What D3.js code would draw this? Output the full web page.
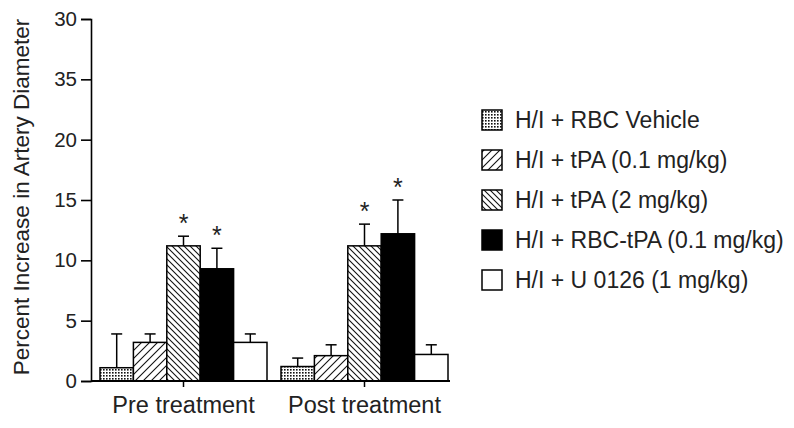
<!DOCTYPE html>
<html>
<head>
<meta charset="utf-8">
<script src="https://cdn.jsdelivr.net/npm/d3@7"></script>
<style>
  body { margin: 0; background: #fff; }
  text { font-family: "Liberation Sans", Arial, sans-serif; fill: #222; }
</style>
</head>
<body>
<div class="vis1"></div>
<script>
// Data
var groups = ["Pre treatment", "Post treatment"];
var series = ["H/I + RBC Vehicle", "H/I + tPA (0.1 mg/kg)", "H/I + tPA (2 mg/kg)", "H/I + RBC-tPA (0.1 mg/kg)", "H/I + U 0126 (1 mg/kg)"];
var preMeans = [1.1, 3.2, 11.2, 9.3, 3.2];
var preErrors = [2.8, 0.7, 0.8, 1.7, 0.7];
var postMeans = [1.2, 2.1, 11.2, 12.2, 2.2];
var postErrors = [0.7, 0.9, 1.8, 2.8, 0.8];
var preStars = [false, false, true, true, false];
var postStars = [false, false, true, true, false];
var tickValues = [0, 5, 10, 15, 20, 25, 30];
var tickLabels = ["0", "5", "10", "15", "20", "35", "30"];   // as printed in the original

var width = 794, height = 428;

var svg = d3.select(".vis1")
  .append("svg")
  .attr("width", width)
  .attr("height", height);

// Patterns
var defs = svg.append("defs");

var dots = defs.append("pattern").attr("id", "dots")
  .attr("patternUnits", "userSpaceOnUse").attr("width", 3).attr("height", 3);
dots.append("rect").attr("width", 3).attr("height", 3).attr("fill", "#fff");
dots.append("rect").attr("width", 1.6).attr("height", 1.6).attr("fill", "#111");

var fwd = defs.append("pattern").attr("id", "fwd")
  .attr("patternUnits", "userSpaceOnUse").attr("width", 8).attr("height", 8);
fwd.append("rect").attr("width", 8).attr("height", 8).attr("fill", "#fff");
fwd.append("path").attr("d", "M-2,2 L2,-2 M0,8 L8,0 M6,10 L10,6")
  .attr("stroke", "#111").attr("stroke-width", 1.1);

var bwd = defs.append("pattern").attr("id", "bwd")
  .attr("patternUnits", "userSpaceOnUse").attr("width", 6).attr("height", 6);
bwd.append("rect").attr("width", 6).attr("height", 6).attr("fill", "#fff");
bwd.append("path").attr("d", "M-2,4 L2,8 M0,0 L6,6 M4,-2 L8,2")
  .attr("stroke", "#111").attr("stroke-width", 1.1);

var fills = ["url(#dots)", "url(#fwd)", "url(#bwd)", "#000", "#fff"];

// Scales
var y = d3.scaleLinear().domain([0, 30]).range([381, 19]);

var x0 = d3.scaleBand().domain(groups)
  .range([100, 448])
  .paddingInner(14 / 181)
  .paddingOuter(0);

var x1 = d3.scaleBand().domain(series)
  .range([0, x0.bandwidth()])
  .padding(0);

// Y axis
var yAxis = svg.append("g")
  .attr("transform", "translate(91,0)")
  .call(d3.axisLeft(y)
    .tickValues(tickValues)
    .tickFormat(function(d, i) { return tickLabels[i]; })
    .tickSize(10)
    .tickPadding(4));
yAxis.select(".domain").attr("stroke", "#000").attr("stroke-width", 1.6);
yAxis.selectAll(".tick line").attr("stroke", "#000").attr("stroke-width", 1.6);
yAxis.selectAll(".tick text")
  .attr("font-size", "20.5px")
  .attr("font-family", "Liberation Sans, Arial, sans-serif")
  .attr("fill", "#222");

svg.append("text")
  .attr("transform", "translate(29,197) rotate(-90)")
  .attr("text-anchor", "middle")
  .attr("font-size", "22.5px")
  .text("Percent Increase in Artery Diameter");

// Bars
var data = [
  {group: groups[0], means: preMeans, errors: preErrors, stars: preStars},
  {group: groups[1], means: postMeans, errors: postErrors, stars: postStars}
];

var gGroups = svg.selectAll(".grp")
  .data(data)
  .enter()
  .append("g")
  .attr("class", "grp")
  .attr("transform", function(d) { return "translate(" + x0(d.group) + ",0)"; });

var items = gGroups.selectAll(".bar")
  .data(function(d) {
    return series.map(function(s, i) {
      return {name: s, i: i, v: d.means[i], e: d.errors[i], star: d.stars[i]};
    });
  })
  .enter()
  .append("g")
  .attr("class", "bar");

// error bars first (upper only), bar drawn on top
items.append("line")
  .attr("x1", function(d) { return x1(d.name) + x1.bandwidth() / 2; })
  .attr("x2", function(d) { return x1(d.name) + x1.bandwidth() / 2; })
  .attr("y1", function(d) { return y(d.v); })
  .attr("y2", function(d) { return y(d.v + d.e); })
  .attr("stroke", "#000").attr("stroke-width", 1.5);

items.append("line")
  .attr("x1", function(d) { return x1(d.name) + x1.bandwidth() / 2 - 5.5; })
  .attr("x2", function(d) { return x1(d.name) + x1.bandwidth() / 2 + 5.5; })
  .attr("y1", function(d) { return y(d.v + d.e); })
  .attr("y2", function(d) { return y(d.v + d.e); })
  .attr("stroke", "#000").attr("stroke-width", 1.5);

items.append("rect")
  .attr("x", function(d) { return x1(d.name); })
  .attr("y", function(d) { return y(d.v); })
  .attr("width", x1.bandwidth())
  .attr("height", function(d) { return y(0) - y(d.v); })
  .attr("fill", function(d) { return fills[d.i]; })
  .attr("stroke", "#000")
  .attr("stroke-width", 1.5);

items.filter(function(d) { return d.star; })
  .append("text")
  .attr("x", function(d) { return x1(d.name) + x1.bandwidth() / 2; })
  .attr("y", function(d) { return y(d.v + d.e) - 4; })
  .attr("text-anchor", "middle")
  .attr("font-size", "25px")
  .text("*");

// X axis
svg.append("line")
  .attr("x1", 91).attr("x2", 450)
  .attr("y1", y(0)).attr("y2", y(0))
  .attr("stroke", "#000").attr("stroke-width", 1.8);

var xAxis = svg.append("g")
  .attr("transform", "translate(0," + y(0) + ")")
  .call(d3.axisBottom(x0).tickSize(6).tickPadding(9));
xAxis.select(".domain").remove();
xAxis.selectAll(".tick line").attr("stroke", "#000").attr("stroke-width", 1.5);
xAxis.selectAll(".tick text")
  .attr("font-size", "23.5px")
  .attr("font-family", "Liberation Sans, Arial, sans-serif")
  .attr("fill", "#222");

// Legend
var legend = svg.selectAll(".legend")
  .data(series)
  .enter()
  .append("g")
  .attr("class", "legend")
  .attr("transform", function(d, i) { return "translate(482," + (120 + i * 40) + ")"; });

legend.append("rect")
  .attr("x", 0).attr("y", -10)
  .attr("width", 20).attr("height", 20)
  .attr("fill", function(d, i) { return fills[i]; })
  .attr("stroke", "#000")
  .attr("stroke-width", 1.5);

legend.append("text")
  .attr("x", 33)
  .attr("dy", "0.36em")
  .attr("font-size", "23px")
  .text(function(d) { return d; });
</script>
</body>
</html>
